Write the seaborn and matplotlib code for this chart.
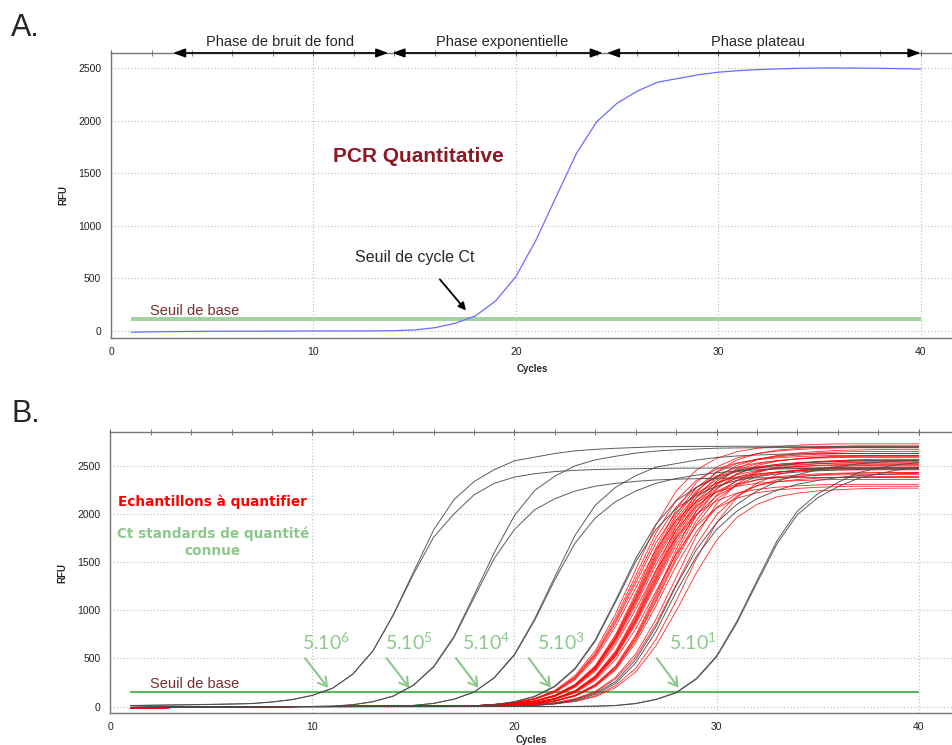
import matplotlib
matplotlib.use("Agg")
import matplotlib.pyplot as plt
import pandas as pd
import seaborn as sns

# ---------------- data ----------------
cycles = list(range(1, 41))

# panel A : one amplification curve
blue_rfu = [-12, -8, -6, -4, -3, -2, -2, -1, -1, 0, 0, 0, 1, 3, 10, 31, 73, 143, 285, 516,
            865, 1280, 1690, 1990, 2165, 2280, 2365, 2400, 2435, 2460, 2475, 2485, 2492, 2497, 2500,
            2500, 2499, 2497, 2494, 2490]
threshold_a = 115

phase_names = ["Phase de bruit de fond", "Phase exponentielle", "Phase plateau"]
phase_start = [3.06, 13.9, 24.5]
phase_end = [13.7, 24.3, 40.0]
phase_label_x = [8.35, 19.3, 31.97]

# panel B : standards (pairs, black) and samples (red)
std_6a = [12, 15, 18, 21, 24, 28, 33, 49, 74, 118, 192, 338, 581, 954, 1397, 1835, 2149, 2338, 2462, 2554,
          2592, 2630, 2657, 2673, 2684, 2692, 2700, 2702, 2703, 2704, 2705, 2705, 2705, 2705, 2704,
          2704, 2703, 2703, 2702, 2702]
std_6b = [10, 13, 16, 19, 22, 26, 31, 47, 72, 116, 190, 336, 579, 948, 1375, 1760, 2000, 2200, 2320, 2385,
          2420, 2442, 2455, 2463, 2468, 2472, 2475, 2477, 2478, 2479, 2480, 2480, 2480, 2480, 2480,
          2479, 2479, 2478, 2478, 2477]
std_5a = [-8, -6, -4, -3, -2, -1, 0, 0, 1, 2, 6, 20, 52, 111, 224, 418, 727, 1158, 1600, 1985,
          2246, 2394, 2502, 2564, 2601, 2634, 2655, 2668, 2677, 2685, 2688, 2690, 2691, 2692, 2692,
          2692, 2692, 2691, 2691, 2690]
std_5b = [-9, -7, -5, -4, -3, -2, -1, 0, 0, 1, 5, 19, 50, 108, 220, 410, 715, 1130, 1540, 1840,
          2045, 2160, 2240, 2290, 2320, 2340, 2355, 2363, 2368, 2372, 2375, 2377, 2378, 2379, 2380,
          2380, 2380, 2380, 2379, 2379]
std_4a = [-8, -6, -4, -3, -2, -1, 0, 0, 0, 1, 1, 2, 2, 5, 13, 34, 78, 152, 302, 544,
          912, 1349, 1780, 2093, 2278, 2399, 2488, 2525, 2562, 2588, 2604, 2614, 2622, 2626, 2628,
          2630, 2630, 2630, 2629, 2629]
std_4b = [-9, -7, -5, -4, -3, -2, -1, 0, 0, 0, 1, 1, 2, 4, 12, 33, 76, 150, 298, 535,
          895, 1320, 1700, 1960, 2130, 2240, 2320, 2370, 2405, 2430, 2448, 2460, 2468, 2473, 2476,
          2478, 2479, 2480, 2480, 2480]
std_3a = [-8, -6, -4, -3, -2, -1, 0, 0, 0, 0, 1, 1, 1, 2, 2, 3, 4, 8, 21, 52,
          108, 215, 400, 694, 1104, 1538, 1895, 2138, 2278, 2381, 2440, 2476, 2506, 2527, 2540,
          2547, 2555, 2558, 2560, 2560]
std_3b = [-9, -7, -5, -4, -3, -2, -1, 0, 0, 0, 0, 1, 1, 1, 2, 2, 3, 7, 19, 49,
          103, 207, 390, 680, 1085, 1505, 1840, 2060, 2195, 2290, 2350, 2390, 2418, 2437, 2450,
          2458, 2464, 2467, 2469, 2470]
std_2a = [-8, -6, -4, -3, -2, -1, 0, 0, 0, 0, 0, 1, 1, 1, 1, 2, 2, 2, 3, 5,
          12, 32, 72, 140, 260, 490, 830, 1255, 1630, 1910, 2100, 2240, 2340, 2410, 2460,
          2495, 2522, 2540, 2552, 2560]
std_2b = [-9, -7, -5, -4, -3, -2, -1, 0, 0, 0, 0, 0, 1, 1, 1, 1, 2, 2, 2, 4,
          10, 28, 65, 128, 240, 455, 780, 1190, 1560, 1840, 2030, 2160, 2250, 2310, 2350,
          2380, 2400, 2412, 2420, 2425]
std_1a = [-8, -6, -4, -3, -2, -1, 0, 0, 0, 0, 0, 0, 0, 0, 0, 0, 1, 1, 1, 1,
          1, 2, 2, 5, 12, 33, 76, 147, 293, 527, 884, 1308, 1726, 2032, 2210,
          2328, 2430, 2480, 2515, 2535]
std_1b = [-9, -7, -5, -4, -3, -2, -1, 0, 0, 0, 0, 0, 0, 0, 0, 0, 0, 1, 1, 1,
          1, 1, 2, 4, 11, 31, 73, 142, 285, 515, 866, 1285, 1695, 1995, 2170,
          2285, 2370, 2420, 2460, 2485]
standards = [std_6a, std_6b, std_5a, std_5b, std_4a, std_4b,
             std_3a, std_3b, std_2a, std_2b, std_1a, std_1b]

# samples: common flat start (cycles 1-18) then each curve from cycle 19 to 40
red_early = [-18, -14, -10, -7, -5, -3, -2, -1, 0, 1, 2, 3, 4, 5, 6, 7, 8, 9]
red_group_1 = [
    [24, 43, 86, 168, 323, 581, 962, 1424, 1887, 2240, 2458, 2580, 2648, 2684, 2703, 2716, 2725, 2730, 2730, 2730, 2730, 2730],
    [23, 41, 83, 161, 309, 556, 920, 1362, 1804, 2142, 2350, 2467, 2532, 2566, 2584, 2597, 2605, 2610, 2610, 2610, 2610, 2610],
    [23, 40, 81, 156, 300, 539, 892, 1320, 1749, 2076, 2278, 2391, 2454, 2487, 2505, 2517, 2525, 2530, 2530, 2530, 2530, 2530],
    [22, 39, 79, 152, 292, 525, 868, 1284, 1701, 2019, 2215, 2325, 2387, 2418, 2436, 2448, 2455, 2460, 2460, 2460, 2460, 2460],
    [22, 38, 76, 146, 280, 504, 833, 1232, 1632, 1937, 2125, 2231, 2290, 2320, 2337, 2348, 2355, 2360, 2360, 2360, 2360, 2360],
]
red_group_2 = [
    [18, 31, 61, 120, 232, 425, 747, 1176, 1645, 2047, 2328, 2489, 2583, 2628, 2655, 2671, 2682, 2687, 2690, 2690, 2690, 2690],
    [18, 31, 60, 117, 227, 416, 730, 1150, 1608, 2001, 2276, 2434, 2525, 2570, 2596, 2612, 2622, 2627, 2630, 2630, 2630, 2630],
    [18, 31, 59, 116, 224, 410, 720, 1132, 1584, 1971, 2242, 2397, 2487, 2531, 2556, 2572, 2582, 2587, 2590, 2590, 2590, 2590],
    [18, 30, 58, 114, 221, 404, 709, 1115, 1559, 1940, 2207, 2360, 2448, 2492, 2517, 2532, 2542, 2547, 2550, 2550, 2550, 2550],
    [18, 30, 58, 113, 218, 398, 698, 1098, 1535, 1910, 2173, 2323, 2410, 2453, 2478, 2493, 2503, 2508, 2510, 2510, 2510, 2510],
    [17, 30, 57, 111, 214, 391, 687, 1080, 1511, 1880, 2138, 2286, 2372, 2413, 2438, 2453, 2463, 2468, 2470, 2470, 2470, 2470],
    [17, 29, 56, 108, 209, 382, 670, 1054, 1474, 1834, 2086, 2230, 2314, 2355, 2379, 2393, 2403, 2408, 2410, 2410, 2410, 2410],
    [17, 28, 54, 104, 201, 367, 643, 1011, 1413, 1758, 2000, 2138, 2218, 2257, 2280, 2294, 2303, 2308, 2310, 2310, 2310, 2310],
]
red_group_3 = [
    [15, 24, 42, 86, 167, 321, 577, 955, 1414, 1873, 2224, 2440, 2562, 2629, 2664, 2683, 2697, 2705, 2710, 2710, 2710, 2710],
    [15, 23, 42, 84, 163, 314, 564, 934, 1383, 1832, 2175, 2386, 2505, 2571, 2605, 2624, 2637, 2645, 2650, 2650, 2650, 2650],
    [15, 23, 41, 83, 160, 308, 554, 917, 1357, 1797, 2134, 2341, 2458, 2522, 2556, 2574, 2587, 2595, 2600, 2600, 2600, 2600],
    [15, 23, 41, 81, 158, 303, 546, 903, 1336, 1770, 2101, 2305, 2420, 2484, 2517, 2535, 2547, 2555, 2560, 2560, 2560, 2560],
    [15, 23, 40, 80, 156, 299, 537, 889, 1315, 1742, 2068, 2269, 2382, 2445, 2477, 2495, 2507, 2515, 2520, 2520, 2520, 2520],
    [15, 22, 40, 79, 153, 294, 529, 875, 1294, 1714, 2035, 2233, 2344, 2406, 2438, 2455, 2468, 2475, 2480, 2480, 2480, 2480],
    [15, 22, 39, 78, 150, 288, 518, 857, 1268, 1680, 1994, 2188, 2297, 2357, 2389, 2406, 2418, 2425, 2430, 2430, 2430, 2430],
    [15, 21, 37, 74, 142, 272, 489, 808, 1196, 1583, 1880, 2062, 2165, 2222, 2251, 2267, 2279, 2285, 2290, 2290, 2290, 2290],
]
red_group_4 = [
    [13, 18, 31, 61, 119, 231, 422, 742, 1167, 1633, 2032, 2311, 2471, 2564, 2609, 2635, 2651, 2662, 2667, 2670, 2670, 2670],
    [13, 18, 31, 59, 117, 226, 413, 725, 1141, 1596, 1986, 2259, 2415, 2506, 2550, 2576, 2592, 2602, 2607, 2610, 2610, 2610],
    [13, 18, 30, 58, 114, 220, 402, 706, 1111, 1553, 1933, 2198, 2350, 2439, 2482, 2507, 2522, 2532, 2537, 2540, 2540, 2540],
    [12, 17, 30, 57, 112, 216, 394, 692, 1089, 1523, 1895, 2155, 2304, 2391, 2433, 2458, 2473, 2483, 2488, 2490, 2490, 2490],
    [12, 17, 29, 55, 108, 208, 379, 665, 1045, 1462, 1819, 2069, 2212, 2295, 2335, 2359, 2373, 2383, 2388, 2390, 2390, 2390],
]
red_group_5 = [
    [13, 15, 23, 41, 82, 158, 304, 548, 906, 1341, 1776, 2109, 2314, 2429, 2493, 2527, 2544, 2557, 2565, 2570, 2570, 2570],
    [12, 15, 22, 39, 78, 150, 288, 518, 857, 1268, 1680, 1994, 2188, 2297, 2357, 2389, 2406, 2418, 2425, 2430, 2430, 2430],
    [11, 12, 18, 30, 58, 113, 218, 398, 698, 1098, 1535, 1910, 2173, 2323, 2410, 2453, 2478, 2493, 2503, 2508, 2510, 2510],
    [11, 12, 17, 28, 53, 103, 198, 360, 632, 993, 1389, 1728, 1965, 2101, 2180, 2218, 2241, 2254, 2263, 2268, 2270, 2270],
]
threshold_b = 148

std_labels = ["6", "5", "4", "3", "1"]
label_x = [9.49, 13.6, 17.4, 21.1, 27.67]
arrow_tail_x = [9.64, 13.68, 17.11, 20.71, 27.05]
arrow_head_x = [10.78, 14.8, 18.22, 21.8, 28.12]


def long_table(curves):
    rows = []
    for i, vals in enumerate(curves):
        for c, v in zip(cycles, vals):
            rows.append({"curve": i, "cycle": c, "rfu": v})
    return pd.DataFrame(rows)


red_curves = [red_early + t for t in red_group_1 + red_group_2 + red_group_3 + red_group_4 + red_group_5]
df_red = long_table(red_curves)
df_std = long_table(standards)

# ---------------- style ----------------
sns.set_style("white")
plt.rcParams['font.family'] = ['Liberation Sans', 'DejaVu Sans']

green_txt = "#8cc88c"
brown = "#7d2b2b"


def style_axes(ax, ytop, ybottom, xright, xpad):
    ax.set_xlim(0, xright)
    ax.set_ylim(ybottom, ytop)
    ax.set_xticks([0, 10, 20, 30, 40])
    ax.set_xticks(range(0, 42, 2), minor=True)
    ax.set_yticks(range(0, 2501, 500))
    ax.set_yticks(range(0, int(ytop), 100), minor=True)
    ax.grid(which="major", color="#bcbcbc", linestyle=(0, (1, 2)), linewidth=0.8)
    for s in ["top", "bottom", "left"]:
        ax.spines[s].set_color("#777777")
        ax.spines[s].set_linewidth(1.0)
    ax.spines["right"].set_visible(False)
    ax.tick_params(axis="x", which="both", top=True, direction="inout", colors="#666666",
                   labelcolor="#222222", labelsize=7.5, pad=4)
    ax.tick_params(axis="x", which="major", length=5)
    ax.tick_params(axis="x", which="minor", length=4)
    ax.tick_params(axis="y", which="both", direction="out", colors="#666666",
                   labelcolor="#222222", labelsize=7.5, pad=3)
    ax.tick_params(axis="y", which="major", length=4)
    ax.tick_params(axis="y", which="minor", length=3)
    ax.set_xlabel("Cycles", fontsize=7, fontweight="bold", labelpad=xpad)
    ax.set_ylabel("RFU", fontsize=7, fontweight="bold", labelpad=7)


fig = plt.figure(figsize=(9.53, 7.45), dpi=100)
ax_a = fig.add_axes([0.1165, 0.5467, 0.8835, 0.3822])
ax_b = fig.add_axes([0.1157, 0.0426, 0.8843, 0.3775])

# ---------------- panel A ----------------
ax_a.hlines(threshold_a, cycles[0], cycles[-1], color="#9fd49f", linewidth=2.8, zorder=2)
sns.lineplot(x=cycles, y=blue_rfu, ax=ax_a, color="#6b6bff", linewidth=0.9, zorder=3)
style_axes(ax_a, 2643, -64, 41.6, 5)

for name, x0, x1, xt in zip(phase_names, phase_start, phase_end, phase_label_x):
    ax_a.annotate("", xy=(x0, 2643), xytext=(x1, 2643),
                  arrowprops=dict(arrowstyle="<|-|>,head_length=0.6,head_width=0.22",
                                  color="black", lw=1.2, shrinkA=0, shrinkB=0, mutation_scale=12),
                  annotation_clip=False)
    ax_a.text(xt, 2750, name, ha="center", va="center", fontsize=10.5, clip_on=False)

ax_a.text(15.17, 1654, "PCR Quantitative", ha="center", va="center", fontsize=15,
          fontweight="bold", color="#8b1a24")
ax_a.text(15.0, 703, "Seuil de cycle Ct", ha="center", va="center", fontsize=11.5)
ax_a.annotate("", xy=(17.54, 195), xytext=(16.25, 490),
              arrowprops=dict(arrowstyle="-|>", color="black", lw=1.3, mutation_scale=11,
                              shrinkA=0, shrinkB=0))
ax_a.text(1.93, 190, "Seuil de base", ha="left", va="center", fontsize=10.5, color=brown)

fig.text(0.012, 0.962, "A.", fontsize=22, va="center", ha="left")
fig.text(0.012, 0.444, "B.", fontsize=22, va="center", ha="left")

# ---------------- panel B ----------------
ax_b.hlines(threshold_b, cycles[0], cycles[-1], color="#5cb85c", linewidth=1.5, zorder=2)
sns.lineplot(data=df_red, x="cycle", y="rfu", units="curve", estimator=None, ax=ax_b,
             color="#ff0000", linewidth=0.6, alpha=0.85, zorder=3)
sns.lineplot(data=df_std, x="cycle", y="rfu", units="curve", estimator=None, ax=ax_b,
             color="#4a4a4a", linewidth=0.7, alpha=0.9, zorder=4)
style_axes(ax_b, 2853, -69, 41.7, 2)

ax_b.text(5.08, 2126, "Echantillons à quantifier", ha="center", va="center", fontsize=9.8,
          fontweight="bold", color="#ff0000", family="DejaVu Sans")
ax_b.text(5.08, 1705, "Ct standards de quantité\nconnue", ha="center", va="center",
          fontsize=9.8, fontweight="bold", color=green_txt, family="DejaVu Sans", linespacing=1.3)
ax_b.text(1.97, 236, "Seuil de base", ha="left", va="center", fontsize=10.5, color=brown)

for lab, xl, xt, xh in zip(std_labels, label_x, arrow_tail_x, arrow_head_x):
    ax_b.text(xl, 672, r"5.10$^{\mathregular{%s}}$" % lab, ha="left", va="center",
              fontsize=14, color=green_txt, family=["Lato", "DejaVu Sans"])
    ax_b.annotate("", xy=(xh, 195), xytext=(xt, 503),
                  arrowprops=dict(arrowstyle="->,head_length=0.5,head_width=0.3",
                                  color=green_txt, lw=1.5, mutation_scale=12,
                                  shrinkA=0, shrinkB=0))

fig.savefig("out.png", dpi=100)
